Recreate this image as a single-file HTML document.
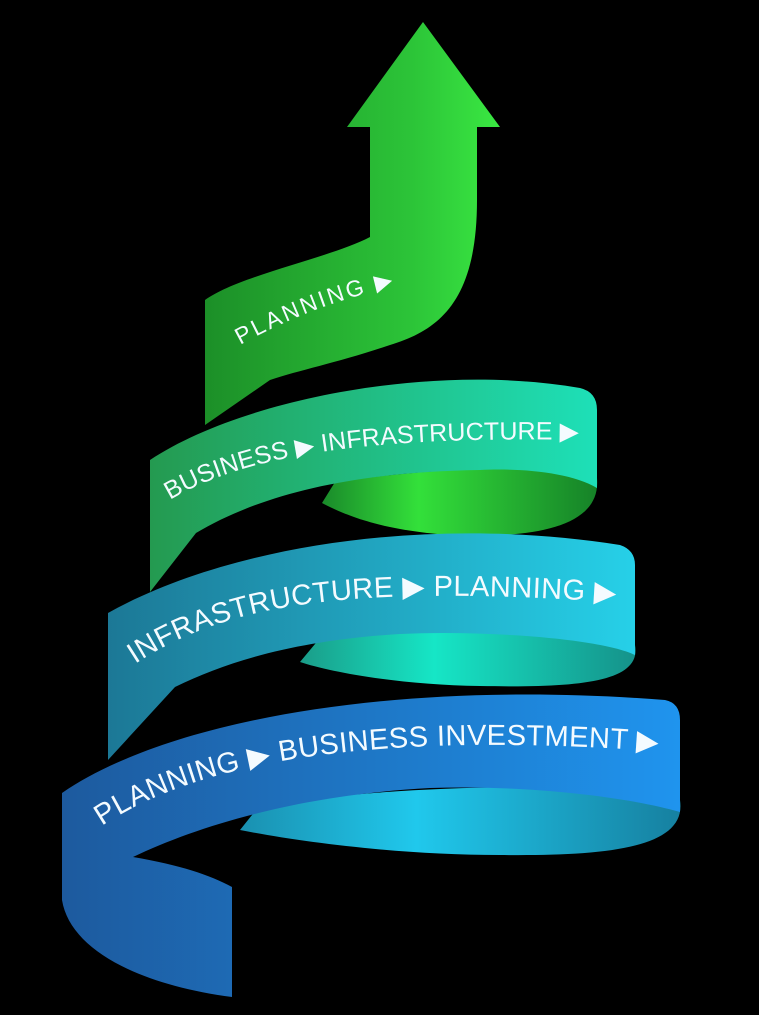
<!DOCTYPE html>
<html><head><meta charset="utf-8"><style>
html,body{margin:0;padding:0;background:#000;}
svg{display:block}
text{font-family:"Liberation Sans",sans-serif;fill:#f4fbff}
</style></head><body>
<svg width="759" height="1015" viewBox="0 0 759 1015" xmlns="http://www.w3.org/2000/svg">
<defs>
<linearGradient id="gA" x1="0" y1="0" x2="1" y2="0"><stop offset="0" stop-color="#1c8f28"/><stop offset="0.7" stop-color="#2cc438"/><stop offset="1" stop-color="#3ae842"/></linearGradient>
<linearGradient id="g1" x1="0" y1="0" x2="1" y2="0"><stop offset="0" stop-color="#249a50"/><stop offset="1" stop-color="#1ee0b8"/></linearGradient>
<linearGradient id="b1" x1="0" y1="0" x2="1" y2="0"><stop offset="0" stop-color="#1a8a2a"/><stop offset="0.35" stop-color="#33e03a"/><stop offset="1" stop-color="#168228"/></linearGradient>
<linearGradient id="g2" x1="0" y1="0" x2="1" y2="0"><stop offset="0" stop-color="#1c7896"/><stop offset="1" stop-color="#26d0e8"/></linearGradient>
<linearGradient id="b2" x1="0" y1="0" x2="1" y2="0"><stop offset="0" stop-color="#1a9c88"/><stop offset="0.4" stop-color="#16e6c6"/><stop offset="1" stop-color="#15928a"/></linearGradient>
<linearGradient id="g3" x1="0" y1="0" x2="1" y2="0"><stop offset="0" stop-color="#1d5a9e"/><stop offset="1" stop-color="#1f94ee"/></linearGradient>
<linearGradient id="b3" x1="0" y1="0" x2="1" y2="0"><stop offset="0" stop-color="#1a90b0"/><stop offset="0.4" stop-color="#20c8ec"/><stop offset="1" stop-color="#1680a0"/></linearGradient>
<path id="t0" d="M240,345 C300,312 350,296 405,284"/>
<path id="t1" d="M170,500 C250,452 380,436 590,440"/>
<path id="t2" d="M135,664 C230,602 350,584 628,603"/>
<path id="t3" d="M102,826 C200,760 380,730 668,752"/>
</defs>
<!-- backs -->
<path d="M680,800 C688,850 600,856 500,855 C400,855 300,842 240,830 L260,805 C400,785 600,780 680,800 Z" fill="url(#b3)"/>
<path d="M635,645 C642,682 580,688 480,686 C400,685 330,672 300,662 L320,638 C450,622 600,625 635,645 Z" fill="url(#b2)"/>
<path d="M597,478 C602,532 520,538 450,535 C380,530 345,515 322,503 L335,482 C450,465 560,465 597,478 Z" fill="url(#b1)"/>
<!-- arrow + top ribbon -->
<path d="M347,127 L423,22 L500,127 L477,127 L477,200 C477,300 440,330 390,345 C340,362 300,370 270,380 L205,425 L205,300 C240,275 330,258 370,237 L370,127 Z" fill="url(#gA)"/>
<text font-size="23"><textPath href="#t0" textLength="165" lengthAdjust="spacing">PLANNING ▶</textPath></text>
<!-- band 1 -->
<path d="M150,460 C240,400 430,362 580,388 Q597,392 597,410 L597,488 C570,472 520,468 480,470 C350,472 260,495 196,533 L150,592 Z" fill="url(#g1)"/>
<text font-size="25"><textPath href="#t1" textLength="418" lengthAdjust="spacing">BUSINESS ▶ INFRASTRUCTURE ▶</textPath></text>
<!-- band 2 -->
<path d="M108,613 C230,545 430,515 620,545 Q635,550 635,565 L635,655 C600,638 480,630 400,634 C300,640 230,660 175,687 L108,760 Z" fill="url(#g2)"/>
<text font-size="29"><textPath href="#t2" textLength="493" lengthAdjust="spacing">INFRASTRUCTURE ▶ PLANNING ▶</textPath></text>
<!-- band 3 -->
<path d="M62,793 C160,725 380,678 665,700 Q680,703 680,720 L680,812 C620,795 520,785 430,788 C300,795 200,825 133,857 C180,865 210,875 232,887 L232,997 C140,985 70,950 62,900 Z" fill="url(#g3)"/>
<text font-size="29"><textPath href="#t3" textLength="570" lengthAdjust="spacing">PLANNING ▶ BUSINESS INVESTMENT ▶</textPath></text>
</svg>
</body></html>
